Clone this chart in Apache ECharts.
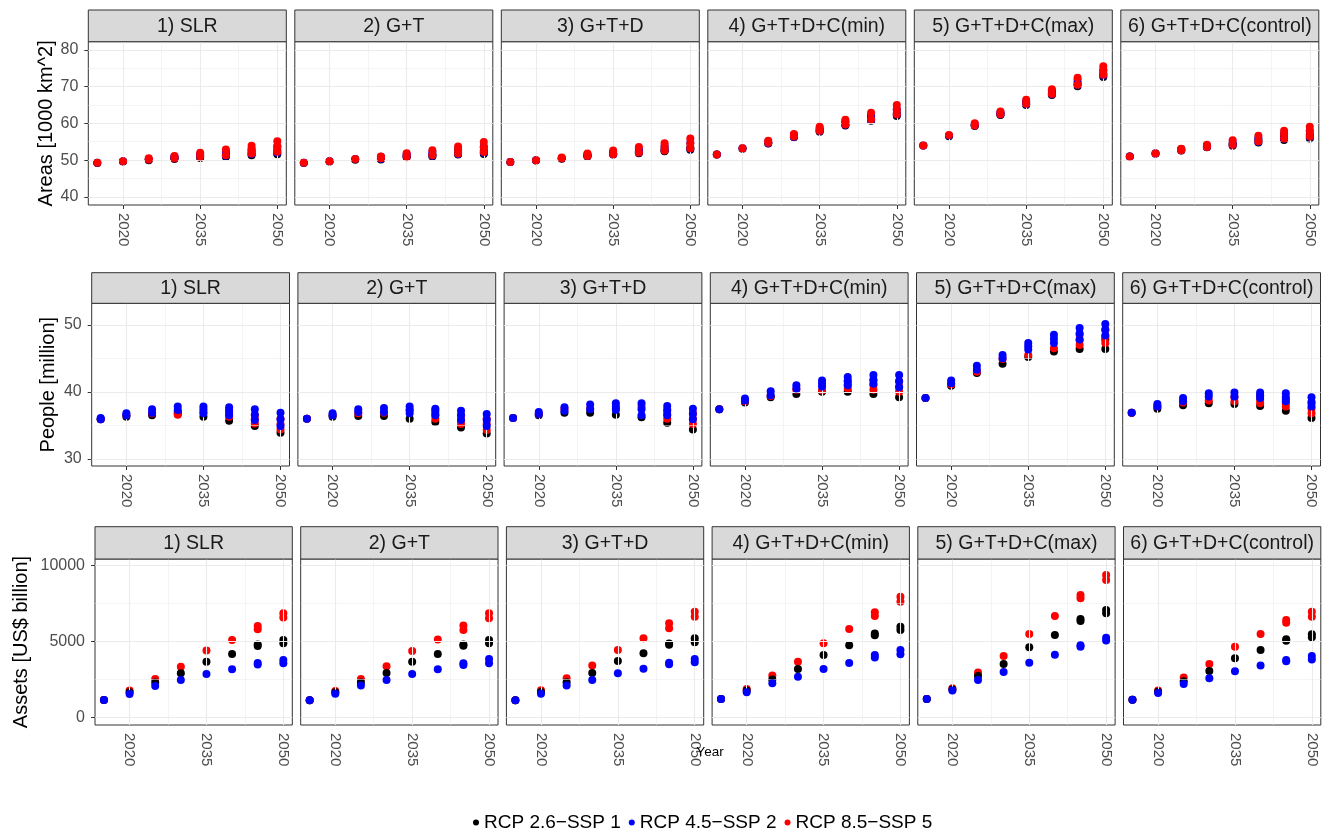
<!DOCTYPE html>
<html><head><meta charset="utf-8">
<script src="https://cdn.jsdelivr.net/npm/echarts@6/dist/echarts.min.js"></script>
<style>html,body{margin:0;padding:0;background:#fff}#c{width:1325px;height:832px}</style>
</head><body><div id="c"></div>
<script>
// ---------------- data ----------------
const years = [2015, 2020, 2025, 2030, 2035, 2040, 2045, 2050];
const panels = ['1) SLR', '2) G+T', '3) G+T+D', '4) G+T+D+C(min)', '5) G+T+D+C(max)', '6) G+T+D+C(control)'];
const scenarios = ['RCP 2.6\u2212SSP 1', 'RCP 4.5\u2212SSP 2', 'RCP 8.5\u2212SSP 5'];
const metricTitles = ['Areas [1000 km^2]', 'People [million]', 'Assets [US$ billion]'];
const xTitle = 'Year';
const xTicks = [2020, 2035, 2050];
const xMinor = [2027.5, 2042.5];
const areaTicks = [40, 50, 60, 70, 80];
const areaMinor = [45, 55, 65, 75];
const peopleTicks = [30, 40, 50];
const peopleMinor = [35, 45];
const assetTicks = [0, 5000, 10000];
const assetMinor = [2500, 7500];

// Areas [1000 km^2]; one list per panel, one entry per year
const areas_rcp26 = [
  [[49.2],[49.6],[50.0],[50.3,50.7],[50.6,51.2],[50.9,51.7],[51.3,52.3],[51.6,52.8]],
  [[49.2],[49.6],[50.1],[50.2,50.6],[50.8,51.2],[51.0,51.6],[51.5,52.2],[51.7,52.6]],
  [[49.5],[49.9],[50.4],[51.0,51.3],[51.5,51.9],[51.9,52.4],[52.4,53.0],[52.8,53.4]],
  [[51.5],[53.1],[54.5,54.8],[56.2,56.6],[57.7,58.2],[59.4,60.0],[60.7,61.5],[62.0,62.8]],
  [[54.0],[56.5],[59.3,59.6],[62.3,62.7],[65.0,65.6],[67.7,68.4],[70.1,71.0],[72.6,73.6]],
  [[51.0],[51.8],[52.6,52.9],[53.5,53.8],[53.9,54.5],[54.8,55.5],[55.5,56.4],[55.9,56.9]]
];
const areas_rcp45 = [
  [[49.3],[49.7],[50.2],[50.5,51.0],[50.9,51.6],[51.2,52.3],[51.7,53.0],[52.0,53.8]],
  [[49.3],[49.7],[50.3],[50.4,50.9],[51.0,51.6],[51.2,52.2],[51.7,52.9],[52.0,53.7]],
  [[49.5],[50.0],[50.5],[51.1,51.6],[51.6,52.3],[52.1,53.0],[52.6,53.8],[53.1,54.8]],
  [[51.5],[53.2],[54.6,55.0],[56.3,56.9],[57.9,58.7],[59.6,60.6],[61.0,62.2],[62.4,63.8]],
  [[54.0],[56.7],[59.4,59.8],[62.4,63.0],[65.2,66.0],[67.9,68.9],[70.4,71.8],[73.0,74.6]],
  [[51.0],[51.8],[52.7,53.0],[53.6,54.0],[54.1,54.9],[55.0,56.0],[55.8,57.2],[56.3,58.0]]
];
const areas_rcp85 = [
  [[49.3],[49.7],[50.2,50.5],[50.5,51.1],[51.0,52.0],[51.3,52.9],[51.8,52.8,53.9],[52.3,53.7,55.1]],
  [[49.3],[49.7],[50.3],[50.5,51.0],[51.0,51.9],[51.3,52.7],[51.8,52.7,53.7],[52.2,53.5,54.9]],
  [[49.5],[50.0],[50.5,50.7],[51.1,51.8],[51.6,52.6],[52.1,53.6],[52.6,53.6,54.6],[53.2,54.5,55.9]],
  [[51.5],[53.2],[54.7,55.3],[56.4,57.1],[58.0,59.1],[59.7,61.0],[61.1,62.9],[62.5,63.7,65.0]],
  [[54.0],[56.8],[59.4,60.0],[62.5,63.2],[65.3,66.4],[68.0,69.3],[70.5,72.4],[73.2,74.4,75.5]],
  [[51.0],[51.8],[52.7,53.1],[53.6,54.2],[54.2,55.4],[55.1,56.6],[55.9,57.0,58.0],[56.4,57.7,59.1]]
];

// People [million]
const people_rcp26 = [
  [[35.9],[36.3],[36.5],[36.7,37.0],[36.3],[35.7],[34.9],[33.9]],
  [[36.0],[36.3],[36.4],[36.4],[36.0],[35.5],[34.7],[33.8]],
  [[36.1],[36.5],[36.9],[36.9],[36.6],[36.2],[35.4],[34.4]],
  [[37.4],[38.4],[39.2],[39.7],[40.0],[40.0],[39.7],[39.2]],
  [[39.1],[40.9],[42.8],[44.2],[45.2],[46.0],[46.4],[46.4,47.8]],
  [[36.9],[37.5],[38.0],[38.3],[38.2],[37.9],[37.2],[36.1]]
];
const people_rcp45 = [
  [[35.9,36.1],[36.5,36.8],[36.9,37.4],[37.3,37.8],[36.8,37.4,37.8],[36.5,37.1,37.7],[35.8,36.6,37.4],[34.9,35.9,36.9]],
  [[36.0],[36.5,36.8],[37.0,37.4],[37.0,37.6],[36.8,37.3,37.8],[36.5,37.0,37.5],[35.8,36.5,37.2],[34.9,35.8,36.7]],
  [[36.1],[36.7,37.0],[37.2,37.7],[37.4,38.1],[37.3,37.8,38.3],[36.5,37.4,38.3],[36.5,37.2,37.9],[35.9,36.7,37.5]],
  [[37.4],[38.7,39.0],[39.5,40.1],[40.5,41.0],[40.8,41.2,41.7],[41.0,41.6,42.2],[41.2,41.8,42.5],[40.7,41.6,42.5]],
  [[39.1],[41.3,41.7],[43.3,43.9],[45.0,45.5],[46.3,46.8,47.3],[47.3,47.9,48.5],[47.8,48.7,49.5],[48.4,49.3,50.1]],
  [[36.9],[37.8,38.2],[38.6,39.1],[39.3,39.8],[39.3,39.9],[39.1,39.5,39.9],[38.6,39.2,39.8],[37.8,38.5,39.2]]
];
const people_rcp85 = [
  [[35.9],[36.5],[36.8],[36.6],[37.0],[36.3,36.8,37.3],[35.3,35.9,36.5],[34.4,35.2,36.0]],
  [[36.0],[36.5],[36.8],[36.9],[37.3],[36.0,36.6,37.3],[35.2,35.8,36.5],[34.3,35.2,36.0]],
  [[36.1],[36.7],[37.5],[37.5],[37.5],[37.8],[36.0,36.7,37.4],[35.2,36.0,36.8]],
  [[37.4],[38.6],[39.4],[40.3],[40.2],[40.5,41.1,41.7],[40.3,41.0,41.7],[40.0,40.8,41.6]],
  [[39.1],[41.1],[43.0],[44.9],[45.5],[46.5],[47.0,47.7,48.5],[47.3,48.2,49.2]],
  [[36.9],[37.8],[38.4],[38.7],[38.6,39.2],[38.3,38.8,39.4],[37.8,38.3,38.9],[36.8,37.5,38.3]]
];

// Assets [US$ billion]
const assets_rcp26 = [
  [[1140],[1650],[2290],[2900],[3670],[4180],[4700,4800],[4880,5100]],
  [[1120],[1650],[2290],[2930],[3670],[4180],[4720,4800],[4880,5100]],
  [[1120],[1670],[2310],[2930],[3720],[4220],[4780,4860],[4950,5210]],
  [[1210],[1760],[2490],[3190],[4110],[4750],[5420,5520],[5760,5980]],
  [[1210],[1830],[2730],[3520],[4620],[5430],[6350,6480],[6860,7080]],
  [[1160],[1680],[2370],[3060],[3890],[4440],[5050,5150],[5280,5470]]
];
const assets_rcp45 = [
  [[1140],[1540],[2070],[2460],[2860],[3170],[3480,3580],[3560,3780]],
  [[1120],[1560],[2090],[2460],[2860],[3170],[3450,3560],[3560,3850]],
  [[1120],[1560],[2090],[2460],[2900],[3210],[3500,3600],[3630,3850]],
  [[1210],[1650],[2240],[2680],[3190],[3590],[3940,4110],[4160,4440]],
  [[1210],[1760],[2460],[2990],[3600],[4130],[4650,4750],[5060,5250]],
  [[1160],[1600],[2200],[2570],[3030],[3410],[3700,3780],[3820,4040]]
];
const assets_rcp85 = [
  [[1140],[1760],[2530],[3340],[4400],[5100],[5800,6020],[6590,6860]],
  [[1120],[1740],[2530],[3370],[4380],[5130],[5760,6050],[6530,6860]],
  [[1120],[1780],[2570],[3410],[4440],[5210],[5870,6200],[6640,6970]],
  [[1210],[1870],[2750],[3670],[4880],[5830],[6690,6930],[7630,7960]],
  [[1210],[1910],[2950],[4040],[5500],[6680],[7850,8070],[9060,9390]],
  [[1160],[1760],[2620],[3520],[4660],[5500],[6240,6420],[6640,6970]]
];

// ---------------- layout / style ----------------
const FONT = "'Liberation Sans', Arial, Helvetica, sans-serif";
const colors = ['#000000', '#0000FF', '#FF0000'];
const metricData = [
  [areas_rcp26, areas_rcp45, areas_rcp85],
  [people_rcp26, people_rcp45, people_rcp85],
  [assets_rcp26, assets_rcp45, assets_rcp85]
];
const yMajorByRow = [areaTicks, peopleTicks, assetTicks];
const yMinorByRow = [areaMinor, peopleMinor, assetMinor];
const rowLayout = [
  {left: 88.3, pitch: 206.5, width: 198.0, top: 41.7, bottom: 205, stripTop: 10,    yMin: 37.8,  yMax: 82.2,  nameGap: 31, order: [0, 1, 2]},
  {left: 91.7, pitch: 206.2, width: 197.8, top: 303.3, bottom: 466, stripTop: 272.7, yMin: 28.95, yMax: 53.2,  nameGap: 33, order: [0, 2, 1]},
  {left: 95.0, pitch: 205.7, width: 197.3, top: 559, bottom: 725, stripTop: 526.7, yMin: -508, yMax: 10442, nameGap: 64, order: [2, 0, 1]}
];
const X_MIN = 2013.25, X_MAX = 2051.75;
const plain = v => String(v);

function toPoints(list) {
  const out = [];
  list.forEach((vals, i) => vals.forEach(v => out.push([years[i], v])));
  return out;
}

const grids = [], xAxes = [], yAxes = [], series = [], graphics = [];
rowLayout.forEach((L, r) => {
  panels.forEach((pname, p) => {
    const gi = grids.length;
    const left = L.left + p * L.pitch;
    grids.push({left: left, top: L.top, width: L.width, height: L.bottom - L.top,
      show: true, borderColor: '#333333', borderWidth: 1, backgroundColor: '#ffffff'});
    xAxes.push({gridIndex: gi, type: 'value', min: X_MIN, max: X_MAX,
      axisLine: {show: false},
      axisTick: {show: true, length: 4, customValues: xTicks, lineStyle: {color: '#333333', width: 1}},
      axisLabel: {show: true, customValues: xTicks, formatter: plain, rotate: -90, margin: 8, fontSize: 15,
        verticalAlign: 'middle', padding: [0, 0, 4, 0], color: '#4D4D4D', fontFamily: FONT},
      splitLine: {show: false}, minorSplitLine: {show: false}});
    yAxes.push({gridIndex: gi, type: 'value', min: L.yMin, max: L.yMax,
      name: p === 0 ? metricTitles[r] : '', nameLocation: 'middle', nameRotate: 90, nameGap: L.nameGap,
      nameTextStyle: {fontSize: 20, color: '#000000', fontFamily: FONT},
      axisLine: {show: false},
      axisTick: {show: p === 0, length: 4, customValues: yMajorByRow[r], lineStyle: {color: '#333333', width: 1}},
      axisLabel: {show: p === 0, customValues: yMajorByRow[r], formatter: plain, margin: 10, fontSize: 16,
        color: '#4D4D4D', fontFamily: FONT},
      splitLine: {show: false}, minorSplitLine: {show: false}});
    // gridlines
    const ml = [];
    xTicks.forEach(v => ml.push({xAxis: v, lineStyle: {width: 1.1}}));
    xMinor.forEach(v => ml.push({xAxis: v, lineStyle: {width: 0.55}}));
    yMajorByRow[r].forEach(v => ml.push({yAxis: v, lineStyle: {width: 1.1}}));
    yMinorByRow[r].forEach(v => ml.push({yAxis: v, lineStyle: {width: 0.55}}));
    series.push({type: 'scatter', name: 'gridlines', xAxisIndex: gi, yAxisIndex: gi, data: [], z: 1, silent: true,
      markLine: {silent: true, symbol: ['none', 'none'], animation: false, label: {show: false},
        lineStyle: {color: '#EBEBEB', type: 'solid'}, emphasis: {disabled: true}, data: ml}});
    L.order.forEach((s, k) => {
      series.push({type: 'scatter', name: scenarios[s], xAxisIndex: gi, yAxisIndex: gi,
        data: toPoints(metricData[r][s][p]), symbol: 'circle', symbolSize: 8, z: 3 + k,
        itemStyle: {color: colors[s], opacity: 1}, emphasis: {disabled: true}, silent: true});
    });
    // strip
    graphics.push({type: 'rect', shape: {x: left, y: L.stripTop, width: L.width, height: L.top - L.stripTop},
      style: {fill: '#D9D9D9', stroke: '#333333', lineWidth: 1}, z: 10, silent: true});
    graphics.push({type: 'text', x: left + L.width / 2, y: (L.stripTop + L.top) / 2 + 1,
      style: {text: pname, fill: '#1A1A1A', font: '19.5px ' + FONT, textAlign: 'center', textVerticalAlign: 'middle'}, z: 11, silent: true});
  });
});
graphics.push({type: 'text', x: 710, y: 752, style: {text: xTitle, fill: '#000000', font: '13.5px ' + FONT, textAlign: 'center', textVerticalAlign: 'middle'}, z: 12, silent: true});

const chart = echarts.init(document.getElementById('c'), null, {renderer: 'canvas'});
chart.setOption({
  animation: false,
  backgroundColor: '#ffffff',
  textStyle: {fontFamily: FONT},
  grid: grids, xAxis: xAxes, yAxis: yAxes, series: series,
  legend: {data: scenarios, left: 468, top: 808, icon: 'circle', itemWidth: 6, itemHeight: 6, itemGap: 8,
    selectedMode: false, textStyle: {fontSize: 19, color: '#000000', fontFamily: FONT}},
  graphic: graphics
});
</script></body></html>
